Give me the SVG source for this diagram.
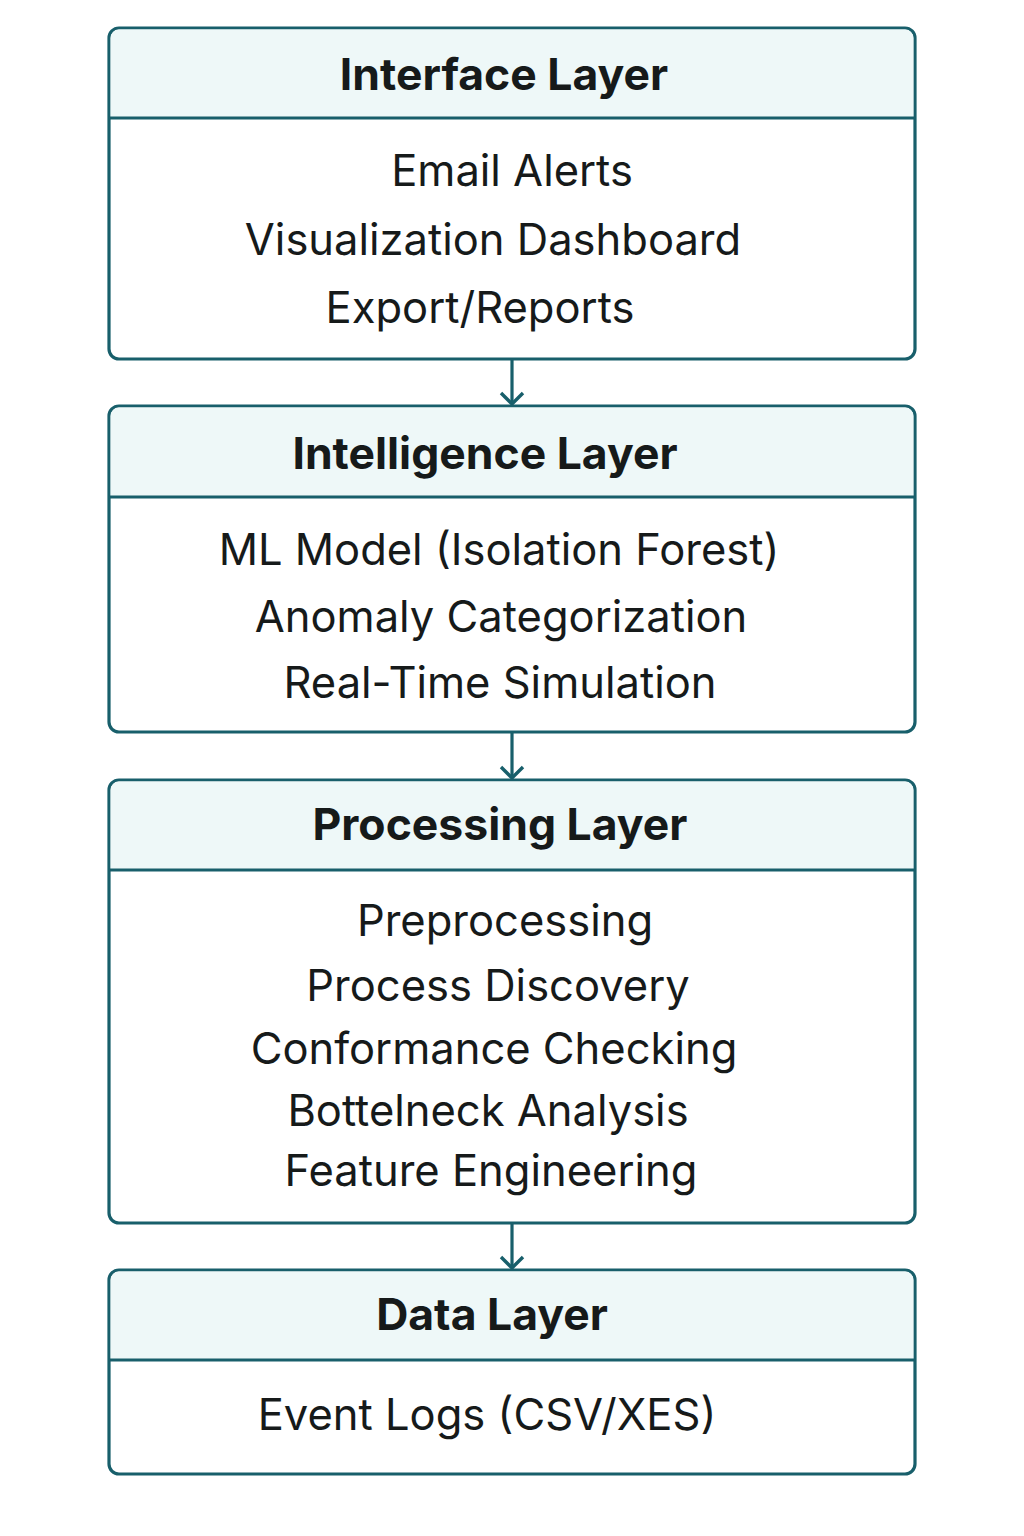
<svg xmlns="http://www.w3.org/2000/svg" width="1024" height="1536" viewBox="0 0 1024 1536">
<style>
.box{fill:#ffffff;stroke:#185f6b;stroke-width:3.2}
.hdr{fill:#eef8f8}
.div{stroke:#185f6b;stroke-width:3.2}
.h{font-family:Inter,"Liberation Sans",sans-serif;font-weight:700;font-size:44.5px;fill:#161a1a;text-anchor:middle}
.t{font-family:Inter,"Liberation Sans",sans-serif;font-weight:400;font-size:43.5px;fill:#161a1a;text-anchor:middle}
.c{stroke:#185f6b;stroke-width:3.2;fill:none}
</style>
<defs>
<marker id="ah" viewBox="0 0 26 26" refX="24" refY="13" markerWidth="26" markerHeight="26" markerUnits="userSpaceOnUse" orient="auto">
<path d="M13 2 L24 13 L13 24" fill="none" stroke="#185f6b" stroke-width="3.4"/>
</marker>
</defs>
<rect width="1024" height="1536" fill="#ffffff"/>
<g id="connectors">
<line class="c" x1="512" y1="360" x2="512" y2="404" marker-end="url(#ah)"/>
<line class="c" x1="512" y1="733" x2="512" y2="778" marker-end="url(#ah)"/>
<line class="c" x1="512" y1="1224" x2="512" y2="1268" marker-end="url(#ah)"/>
</g>
<g id="interface">
<rect class="box" x="109" y="28" width="806" height="331" rx="10"/>
<path class="hdr" d="M119 29.6 H905 A8.4 8.4 0 0 1 913.4 38 V118 H110.6 V38 A8.4 8.4 0 0 1 119 29.6 Z"/>
<line class="div" x1="109" y1="118" x2="915" y2="118"/>
<text class="h" x="504" y="90">Interface Layer</text>
<text class="t" x="512" y="186">Email Alerts</text>
<text class="t" x="493" y="255">Visualization Dashboard</text>
<text class="t" x="480" y="323">Export/Reports</text>
</g>
<g id="intelligence">
<rect class="box" x="109" y="406" width="806" height="326" rx="10"/>
<path class="hdr" d="M119 407.6 H905 A8.4 8.4 0 0 1 913.4 416 V497 H110.6 V416 A8.4 8.4 0 0 1 119 407.6 Z"/>
<line class="div" x1="109" y1="497" x2="915" y2="497"/>
<text class="h" x="485" y="469">Intelligence Layer</text>
<text class="t" x="499" y="565">ML Model (Isolation Forest)</text>
<text class="t" x="501" y="632">Anomaly Categorization</text>
<text class="t" x="500" y="698">Real-Time Simulation</text>
</g>
<g id="processing">
<rect class="box" x="109" y="780" width="806" height="443" rx="10"/>
<path class="hdr" d="M119 781.6 H905 A8.4 8.4 0 0 1 913.4 790 V870 H110.6 V790 A8.4 8.4 0 0 1 119 781.6 Z"/>
<line class="div" x1="109" y1="870" x2="915" y2="870"/>
<text class="h" x="500" y="840">Processing Layer</text>
<text class="t" x="505" y="936">Preprocessing</text>
<text class="t" x="498" y="1001">Process Discovery</text>
<text class="t" x="494" y="1064">Conformance Checking</text>
<text class="t" x="488" y="1126">Bottelneck Analysis</text>
<text class="t" x="491" y="1186">Feature Engineering</text>
</g>
<g id="data">
<rect class="box" x="109" y="1270" width="806" height="204" rx="10"/>
<path class="hdr" d="M119 1271.6 H905 A8.4 8.4 0 0 1 913.4 1280 V1360 H110.6 V1280 A8.4 8.4 0 0 1 119 1271.6 Z"/>
<line class="div" x1="109" y1="1360" x2="915" y2="1360"/>
<text class="h" x="492" y="1330">Data Layer</text>
<text class="t" x="487" y="1430">Event Logs (CSV/XES)</text>
</g>
</svg>
